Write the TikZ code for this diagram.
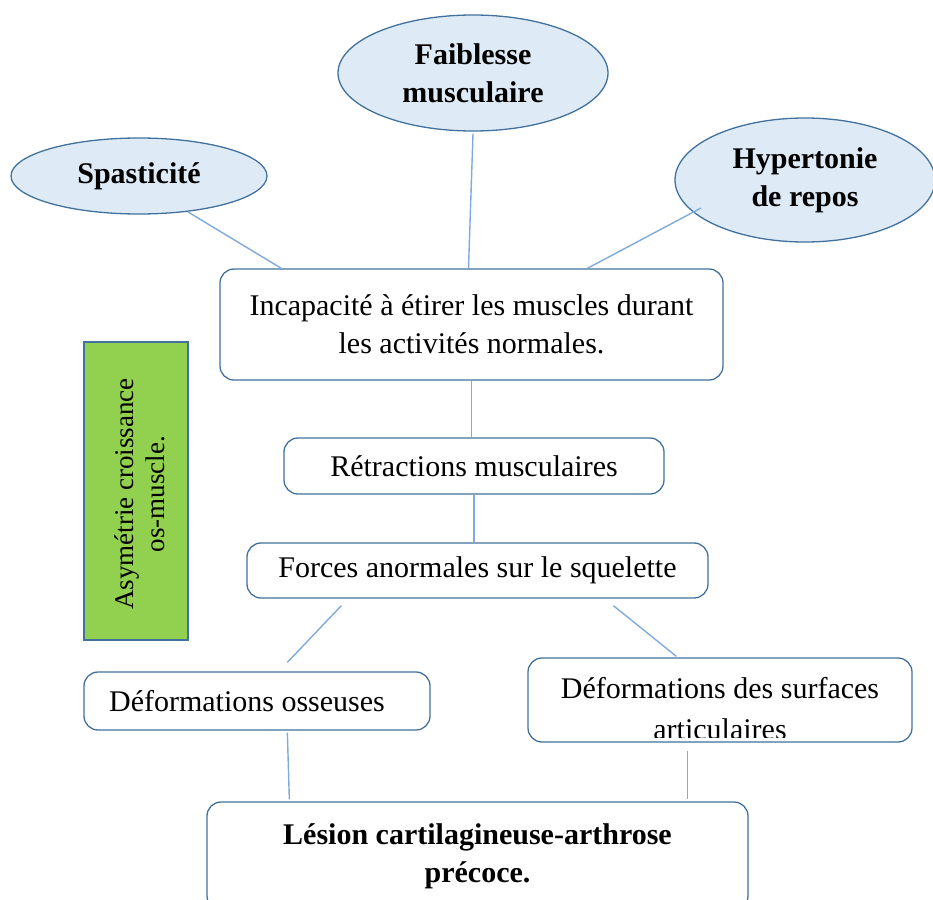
\documentclass[tikz,border=0pt]{standalone}
\usepackage{fontspec}
\setmainfont{Liberation Serif}
\usetikzlibrary{shapes.geometric,calc}
\definecolor{ellfill}{HTML}{DEEBF7}
\definecolor{bord}{HTML}{41719C}
\definecolor{connc}{HTML}{7FAADB}
\definecolor{grn}{HTML}{92D050}
\begin{document}
\begin{tikzpicture}[x=1pt,y=-1pt,
  ell/.style={ellipse,draw=bord,fill=ellfill,line width=1.3pt,inner sep=0pt,align=center,font=\fontsize{30}{38}\selectfont\bfseries},
  box/.style={rectangle,rounded corners=14pt,draw=bord,fill=white,line width=1.3pt,inner sep=0pt,align=center,font=\fontsize{30}{38}\selectfont},
  txt/.style={inner sep=0pt,anchor=base,font=\fontsize{30}{38}\selectfont},
  conn/.style={draw=connc,line width=1.4pt}]
\clip (0,0) rectangle (933,899);
% ellipses
\node[ell,minimum width=256,minimum height=76] (sp) at (139,176) {Spasticité};
\node[ell,minimum width=270,minimum height=116] (fm) at (473,73) {Faiblesse\\musculaire};
\node[ell,minimum width=260,minimum height=124] (hr) at (805,180) {Hypertonie\\de repos};
% boxes
\node[box,minimum width=503,minimum height=111] (inc) at (471.5,324.5) {Incapacité à étirer les muscles durant\\les activités normales.};
\node[box,minimum width=380,minimum height=56] (ret) at (474,466) {Rétractions musculaires};
\node[box,minimum width=461,minimum height=55] (for) at (477.5,570.5) {Forces anormales sur le squelette};
\node[box,minimum width=346,minimum height=58] (deo) at (257,701) {Déformations osseuses\hspace*{20pt}};
\node[box,minimum width=384,minimum height=84] (des) at (720,700) {};
\node[txt] (des1) at (720,698) {Déformations des surfaces};
\begin{scope}
  \clip (528,658) rectangle (912,737);
  \node[txt] (des2) at (720,739) {articulaires};
\end{scope}
\node[box,minimum width=541,minimum height=108,font=\fontsize{30}{38}\selectfont\bfseries] (les) at (477.5,856) {Lésion cartilagineuse-arthrose\\précoce.};
\node[rectangle,draw=bord,fill=grn,line width=1.3pt,minimum width=104,minimum height=298,inner sep=0pt] (grb) at (136,491) {};
\node[rotate=90,align=center,inner sep=0pt,font=\fontsize{27}{31}\selectfont] (grt) at (140,494) {Asymétrie croissance\\os-muscle.};
% connectors
\draw[conn] ($(sp.center)+(49,36)$) -- ($(inc.north west)+(62,0)$);
\draw[conn] ($(fm.south)+(0,2)$) -- ($(inc.north)+(-3,0)$);
\draw[conn] ($(hr.center)+(-104,28)$) -- ($(inc.north west)+(368,0)$);
\draw[conn] (inc.south) -- (inc.south |- ret.north);
\draw[conn] (ret.south) -- (ret.south |- for.north);
\draw[conn] ($(for.south west)+(95,7)$) -- ($(deo.north west)+(204,-9)$);
\draw[conn] ($(for.south west)+(367,7)$) -- ($(des.north west)+(149,-1)$);
\draw[conn] ($(deo.south west)+(204,2)$) -- ($(les.north west)+(83,-2)$);
\draw[conn] ($(des.south west)+(160,8)$) -- ($(les.north west)+(481,-2)$);
\end{tikzpicture}
\end{document}
